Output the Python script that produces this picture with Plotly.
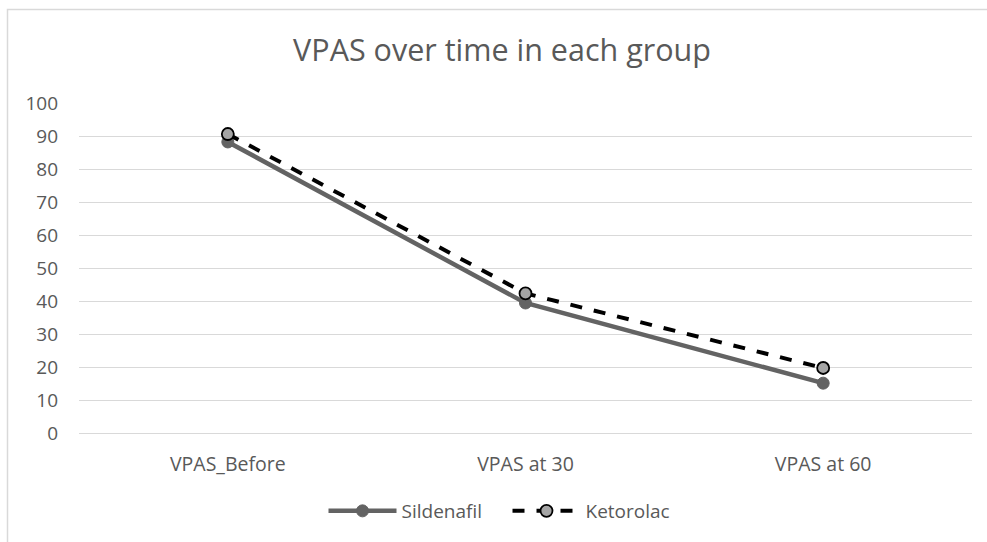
import plotly.graph_objects as go

categories = ["VPAS_Before", "VPAS at 30", "VPAS at 60"]
sildenafil = [88.2, 39.4, 15.1]
ketorolac = [90.6, 42.3, 19.7]
y_ticks = list(range(0, 101, 10))

font_family = "Open Sans, Liberation Sans, sans-serif"
text_color = "#595959"

L, R, T, B = 79, 15, 103, 109
W, H = 987, 542
pw, ph = W - L - R, H - T - B

fig = go.Figure()
fig.add_trace(go.Scatter(
    x=categories, y=sildenafil, name="Sildenafil", mode="lines+markers",
    line=dict(color="#636363", width=4.5),
    marker=dict(symbol="circle", size=12, color="#636363", line=dict(color="#636363", width=1)),
))
fig.add_trace(go.Scatter(
    x=categories, y=ketorolac, name="Ketorolac", mode="lines+markers",
    line=dict(color="#000000", width=4, dash="dash"),
    marker=dict(symbol="circle", size=12, color="#A5A5A5", line=dict(color="#000000", width=1.8)),
))

fig.update_layout(
    width=W, height=H,
    paper_bgcolor="white", plot_bgcolor="white",
    margin=dict(l=L, r=R, t=T, b=B, autoexpand=False),
    title=dict(text="VPAS over time in each group", x=(502 - L) / pw, xref="paper", xanchor="center",
               y=1 - 50 / H, yanchor="middle",
               font=dict(family=font_family, size=30.5, color=text_color)),
    font=dict(family=font_family, size=18, color=text_color),
    xaxis=dict(type="category", range=[-0.5, 2.5], showgrid=False, showline=True, automargin=False,
               linecolor="#D9D9D9", linewidth=1, ticks="", ticklabelstandoff=14,
               tickfont=dict(size=19.5, color=text_color)),
    yaxis=dict(range=[0, 100], tickvals=y_ticks, showgrid=True, gridcolor="#D9D9D9", gridwidth=1,
               zeroline=False, showline=False, ticks="", ticklabelstandoff=20, automargin=False,
               tickfont=dict(size=19, color=text_color)),
    legend=dict(orientation="h", x=(507.5 - L) / pw, xanchor="center", y=-(511 - (T + ph)) / ph, yanchor="middle",
                font=dict(size=19, color=text_color), itemwidth=68,
                entrywidth=101, entrywidthmode="pixels"),
    showlegend=True,
    shapes=[dict(type="rect", xref="paper", yref="paper",
                 x0=(7.5 - L) / pw, x1=(W + 20 - L) / pw,
                 y0=-(H + 20 - (T + ph)) / ph, y1=(T + ph - 9.5) / ph,
                 line=dict(color="#D9D9D9", width=1.5), fillcolor="rgba(0,0,0,0)", layer="below")],
)

fig.write_html("out.html", config={"displayModeBar": False},
               post_script="document.body.style.margin='0';")
